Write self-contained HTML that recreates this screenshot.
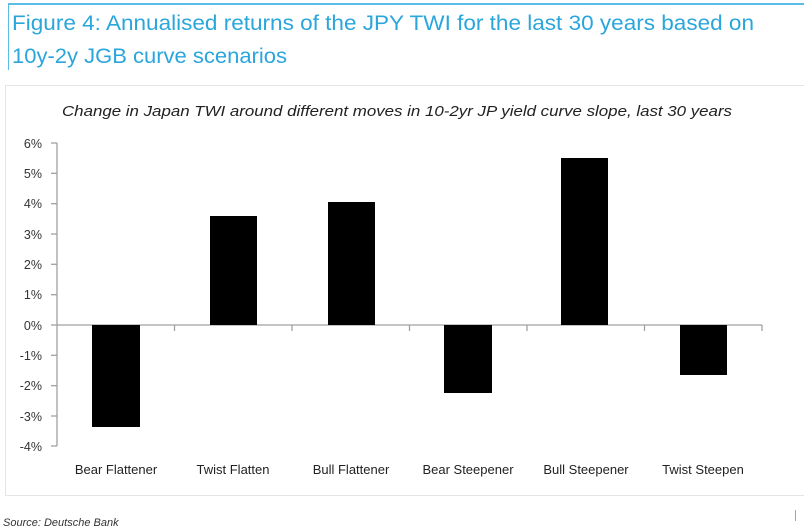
<!DOCTYPE html>
<html><head><meta charset="utf-8"><style>
body{margin:0;background:#fff;width:804px;height:529px;overflow:hidden;position:relative;font-family:"Liberation Sans",sans-serif}
</style></head><body>
<div style="position:absolute;left:8px;top:3px;width:796px;height:2px;background:#5bbde6"></div>
<div style="position:absolute;left:8px;top:3px;width:1px;height:67px;background:#5bbde6"></div>
<div style="position:absolute;left:795px;top:510px;width:1px;height:11px;background:#5bbde6"></div>
<div style="position:absolute;left:3px;top:517px;font-size:11px;font-style:italic;color:#333">Source: Deutsche Bank</div>
<svg width="804" height="529" style="position:absolute;left:0;top:0" font-family="Liberation Sans Narrow, Liberation Sans, sans-serif">
<text x="12" y="30" font-family="Liberation Sans, sans-serif" font-size="21" fill="#2aa6dc" textLength="742" lengthAdjust="spacingAndGlyphs">Figure 4: Annualised returns of the JPY TWI for the last 30 years based on</text>
<text x="12" y="63" font-family="Liberation Sans, sans-serif" font-size="21" fill="#2aa6dc" textLength="275" lengthAdjust="spacingAndGlyphs">10y-2y JGB curve scenarios</text>
<rect x="5.5" y="85.5" width="800" height="410" fill="none" stroke="#e4e4e4"/>
<text x="397" y="116" text-anchor="middle" font-size="15" font-style="italic" fill="#222" textLength="670" lengthAdjust="spacingAndGlyphs">Change in Japan TWI around different moves in 10-2yr JP yield curve slope, last 30 years</text>
<g stroke="#a0a0a0" stroke-width="1.3">
<line x1="57" y1="143" x2="57" y2="446"/>
<line x1="57" y1="325" x2="762" y2="325"/>
<line x1="51" y1="143" x2="57" y2="143"/><line x1="51" y1="173.3" x2="57" y2="173.3"/><line x1="51" y1="203.7" x2="57" y2="203.7"/><line x1="51" y1="234" x2="57" y2="234"/><line x1="51" y1="264.3" x2="57" y2="264.3"/><line x1="51" y1="294.7" x2="57" y2="294.7"/><line x1="51" y1="325" x2="57" y2="325"/><line x1="51" y1="355.3" x2="57" y2="355.3"/><line x1="51" y1="385.7" x2="57" y2="385.7"/><line x1="51" y1="416" x2="57" y2="416"/><line x1="51" y1="446" x2="57" y2="446"/>
<line x1="174.5" y1="325" x2="174.5" y2="331"/><line x1="292" y1="325" x2="292" y2="331"/><line x1="409.5" y1="325" x2="409.5" y2="331"/><line x1="527" y1="325" x2="527" y2="331"/><line x1="644.5" y1="325" x2="644.5" y2="331"/><line x1="762" y1="325" x2="762" y2="331"/>
</g>
<g font-size="12.5" fill="#333" text-anchor="end">
<text x="42" y="148">6%</text><text x="42" y="178">5%</text><text x="42" y="208">4%</text><text x="42" y="239">3%</text><text x="42" y="269">2%</text><text x="42" y="299">1%</text><text x="42" y="330">0%</text><text x="42" y="360">-1%</text><text x="42" y="390">-2%</text><text x="42" y="421">-3%</text><text x="42" y="451">-4%</text>
</g>
<g fill="#000">
<rect x="92" y="325" width="48" height="102"/>
<rect x="210" y="216" width="47" height="109"/>
<rect x="328" y="202" width="47" height="123"/>
<rect x="444" y="325" width="48" height="68"/>
<rect x="561" y="158" width="47" height="167"/>
<rect x="680" y="325" width="47" height="50"/>
</g>
<g font-size="13" fill="#222" text-anchor="middle">
<text x="116" y="474">Bear Flattener</text><text x="233" y="474">Twist Flatten</text><text x="351" y="474">Bull Flattener</text><text x="468" y="474">Bear Steepener</text><text x="586" y="474">Bull Steepener</text><text x="703" y="474">Twist Steepen</text>
</g>
</svg>
</body></html>
